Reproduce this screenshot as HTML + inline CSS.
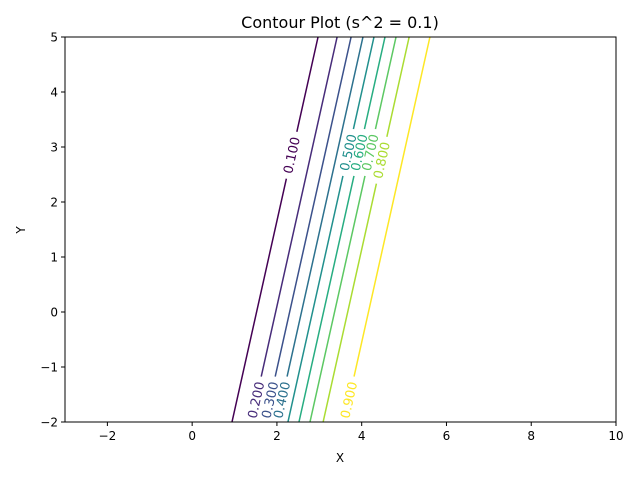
<!DOCTYPE html>
<html><head><meta charset="utf-8"><style>
body{margin:0;background:#fff}
svg text{font-family:"DejaVu Sans","Liberation Sans",sans-serif}
</style></head><body>
<svg width="640" height="480" viewBox="0 0 640 480">
<text x="340" y="28" font-size="16" text-anchor="middle">Contour Plot (s^2 = 0.1)</text>
<defs><clipPath id="clip"><rect x="65" y="37" width="551" height="385"/></clipPath></defs>
<g id="lines" clip-path="url(#clip)"></g>
<rect x="65" y="37" width="551" height="385" fill="none" stroke="#000" stroke-width="1"/>
<g id="ticks"></g>
<text x="340" y="462" font-size="12" text-anchor="middle">X</text>
<text x="25" y="230" font-size="12" text-anchor="middle" transform="rotate(-90 25 230)">Y</text>
</svg>
<script>
const levels=[0.1,0.2,0.3,0.4,0.5,0.6,0.7,0.8,0.9];
const xAtBottom=[0.94,1.39,1.72,2.0,2.26,2.52,2.78,3.09,3.58];
const xAtTop=[2.97,3.42,3.75,4.03,4.29,4.55,4.81,5.12,5.61];
const labelY=[2.85,-1.6,-1.6,-1.6,2.9,2.9,2.9,2.76,-1.6];
const colors=["#440154","#472c7a","#3b518b","#2c718e","#21908d","#27ad81","#5cc863","#aadc32","#fde725"];
const xTicks=[-2,0,2,4,6,8,10];
const yTicks=[-2,-1,0,1,2,3,4,5];
const X0=65,X1=616,Y0=422,Y1=37,xmin=-3,xmax=10,ymin=-2,ymax=5;
const sx=v=>X0+(v-xmin)/(xmax-xmin)*(X1-X0);
const sy=v=>Y0-(v-ymin)/(ymax-ymin)*(Y0-Y1);
const NS="http://www.w3.org/2000/svg";
const g=document.getElementById('lines'),tg=document.getElementById('ticks');
function mk(t,a,p){const e=document.createElementNS(NS,t);for(const k in a)e.setAttribute(k,a[k]);(p||g).appendChild(e);return e;}
levels.forEach((lv,i)=>{
  const x1=sx(xAtBottom[i]),y1=sy(ymin),x2=sx(xAtTop[i]),y2=sy(ymax);
  const ln=mk('line',{x1:x1,y1:y1,x2:x2,y2:y2,stroke:colors[i],'stroke-width':1.5});
  
  
  const t=(labelY[i]-ymin)/(ymax-ymin);
  const lx=x1+(x2-x1)*t,ly=y1+(y2-y1)*t;
  const ang=Math.atan2(y2-y1,x2-x1)*180/Math.PI;
  const grp=mk('g',{transform:`translate(${lx},${ly}) rotate(${ang})`});
  
  
  mk('rect',{x:-24,y:-6,width:48,height:12,fill:'#fff'},grp);
  const tx=mk('text',{x:0,y:4.5,'font-size':13,'text-anchor':'middle',fill:colors[i]},grp);
  tx.textContent=lv.toFixed(3);
});
xTicks.forEach(v=>{
  const x=sx(v);
  const l=mk('line',{x1:x,x2:x,y1:Y0,y2:Y0+4,stroke:'#000'},tg);
  
  
  const t=mk('text',{x:x,y:Y0+18,'font-size':12,'text-anchor':'middle'},tg);
  
  
  t.textContent=v<0?'\u2212'+(-v):v;
});
yTicks.forEach(v=>{
  const y=sy(v);
  const l=mk('line',{x1:X0-4,x2:X0,y1:y,y2:y,stroke:'#000'},tg);
  
  
  const t=mk('text',{x:X0-7,y:y+4.5,'font-size':12,'text-anchor':'end'},tg);
  
  
  t.textContent=v<0?'\u2212'+(-v):v;
});
</script>
</body></html>
